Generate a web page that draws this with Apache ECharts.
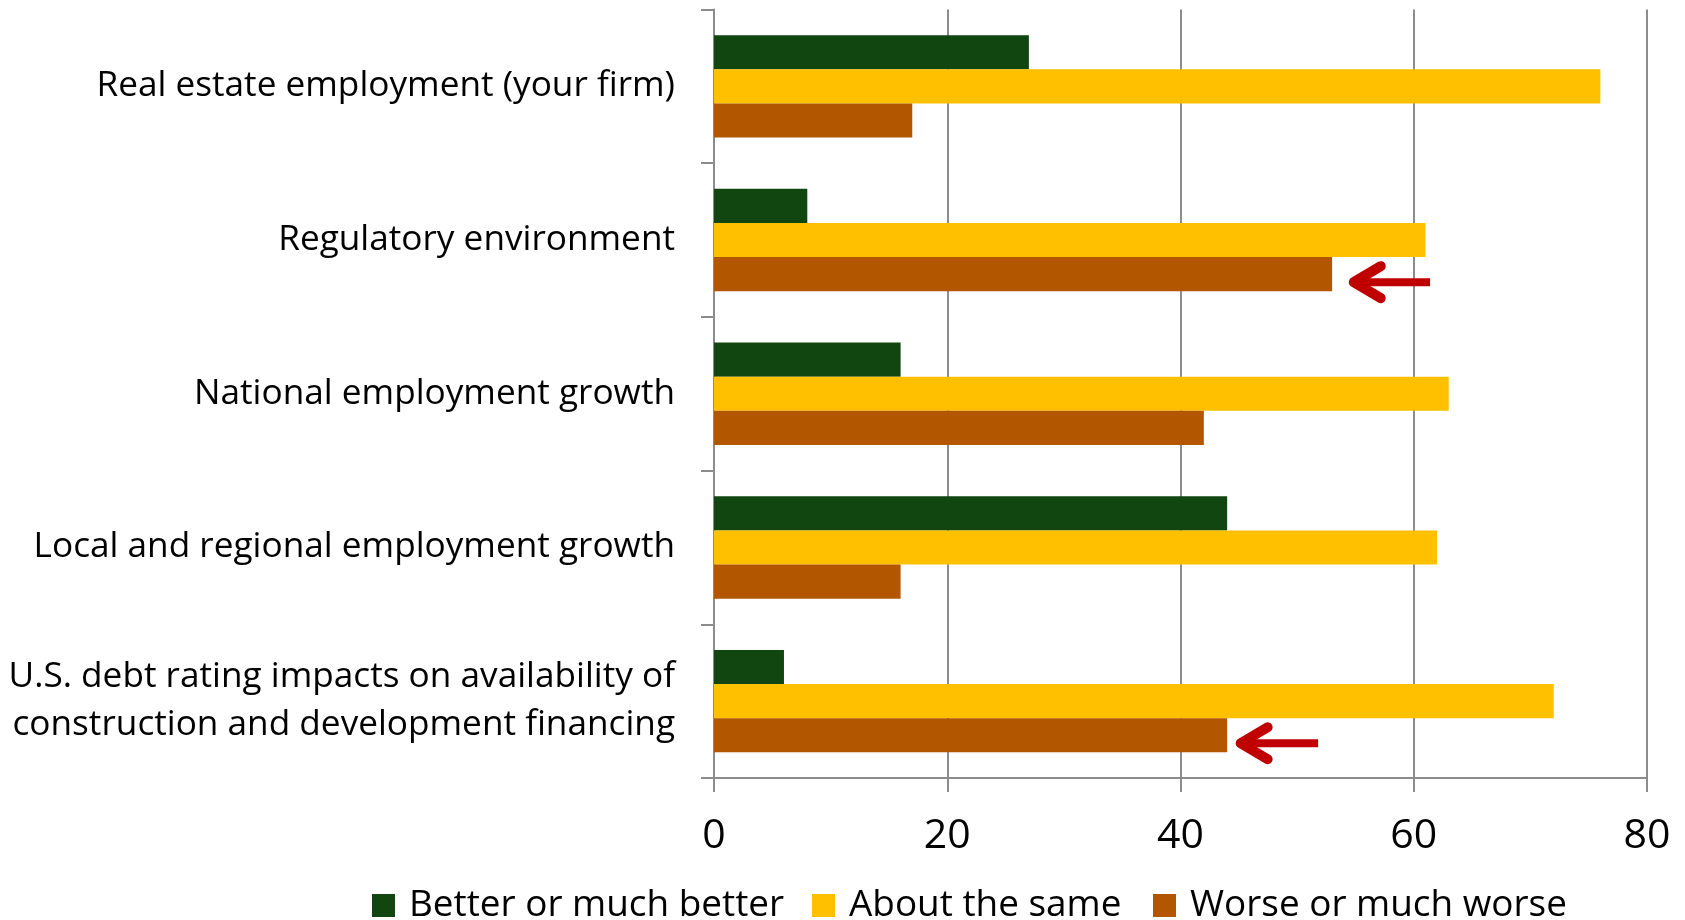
<!DOCTYPE html>
<html><head><meta charset="utf-8">
<script src="https://cdn.jsdelivr.net/npm/echarts@6/dist/echarts.min.js"></script>
<style>html,body{margin:0;padding:0;background:#fff}#c{width:1685px;height:920px}</style>
</head><body><div id="c"></div>
<script>
const categories = [
  'Real estate employment (your firm)',
  'Regulatory environment',
  'National employment growth',
  'Local and regional employment growth',
  'U.S. debt rating impacts on availability of\nconstruction and development financing'
];
const seriesNames = ['Better or much better', 'About the same', 'Worse or much worse'];
const better = [27, 8, 16, 44, 6];
const same = [76, 61, 63, 62, 72];
const worse = [17, 53, 42, 16, 44];
const xMin = 0, xMax = 80, xStep = 20;
// red arrows pointing at the "worse" bars
const arrowCategory = [1, 4];
const arrowTip = [54.6, 44.9];
const arrowTail = [61.4, 51.8];

const colors = ['#114611', '#FFC000', '#B35600'];
const FONT = 'Open Sans';
const GAP = 0.334;

// pick font sizes so that text widths match the reference layout
const ctx = document.createElement('canvas').getContext('2d');
function fitSize(text, targetWidth) {
  ctx.font = '100px "' + FONT + '"';
  return Math.round(100 * targetWidth / ctx.measureText(text).width * 10) / 10;
}
const catFont = fitSize(categories[0], 578);
const legFont = fitSize(seriesNames[0], 375);

const chart = echarts.init(document.getElementById('c'), null, {renderer: 'canvas'});

const arrowData = arrowCategory.map((c, i) => [arrowTip[i], arrowTail[i], c]);

const option = {
  backgroundColor: '#fff',
  animation: false,
  textStyle: {fontFamily: FONT},
  grid: {left: 714, right: 38, top: 9.5, bottom: 142, containLabel: false, outerBoundsMode: 'none'},
  legend: [0, 1, 2].map((i) => ({
    data: [seriesNames[i]],
    left: [372, 817, 1153][i],
    top: 887,
    padding: 0,
    itemWidth: 23,
    itemHeight: 23,
    icon: 'rect',
    selectedMode: false,
    textStyle: {fontFamily: FONT, fontSize: legFont, color: '#000', padding: [0, 0, 0, 9]}
  })),
  xAxis: {
    type: 'value', min: xMin, max: xMax, interval: xStep,
    axisLine: {show: true, lineStyle: {color: '#8c8c8c', width: 2}},
    axisTick: {show: true, length: 14, lineStyle: {color: '#8c8c8c', width: 2}},
    splitLine: {show: true, lineStyle: {color: '#8c8c8c', width: 2}},
    axisLabel: {fontFamily: FONT, fontSize: 41, color: '#000', margin: 38}
  },
  yAxis: {
    type: 'category', data: categories, inverse: true,
    axisLine: {show: true, lineStyle: {color: '#8c8c8c', width: 2}},
    axisTick: {show: true, length: 13, lineStyle: {color: '#8c8c8c', width: 2}},
    axisLabel: {fontFamily: FONT, fontSize: catFont, color: '#000', margin: 39, lineHeight: 48, align: 'right'}
  },
  series: [
    {name: seriesNames[0], type: 'bar', data: better, itemStyle: {color: colors[0]}, barGap: '0%', barCategoryGap: (GAP * 100) + '%'},
    {name: seriesNames[1], type: 'bar', data: same, itemStyle: {color: colors[1]}, barGap: '0%', barCategoryGap: (GAP * 100) + '%'},
    {name: seriesNames[2], type: 'bar', data: worse, itemStyle: {color: colors[2]}, barGap: '0%', barCategoryGap: (GAP * 100) + '%'},
    {
      type: 'custom', name: 'arrows', data: arrowData, silent: true, z: 5,
      encode: {x: [0, 1], y: 2},
      renderItem: function (params, api) {
        const tip = api.coord([api.value(0), api.value(2)]);
        const tail = api.coord([api.value(1), api.value(2)]);
        const band = api.size([0, 1])[1];
        const y = tip[1] + band * (1 - GAP) / 3 + 8;
        const x0 = tip[0], x1 = tail[0];
        const style = {stroke: '#C00000', fill: null, lineCap: 'round', lineJoin: 'round'};
        return {
          type: 'group',
          children: [
            {type: 'line', shape: {x1: x0 + 6, y1: y, x2: x1, y2: y}, style: {stroke: '#C00000', lineWidth: 8, lineCap: 'butt'}},
            {type: 'polyline', shape: {points: [[x0 + 30, y - 16], [x0 + 3, y], [x0 + 30, y + 16]]}, style: Object.assign({lineWidth: 10}, style)}
          ]
        };
      }
    }
  ]
};
option.legend[1].left = 812;
chart.setOption(option);
</script>
</body></html>
